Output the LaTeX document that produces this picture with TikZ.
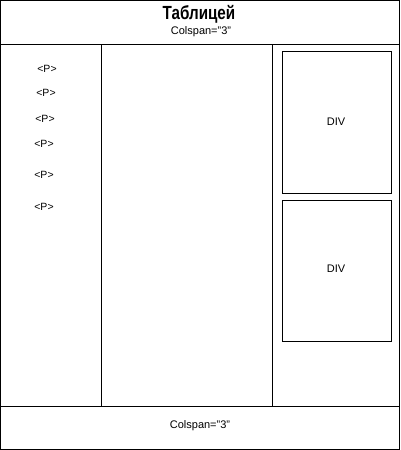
\documentclass[tikz,border=0pt]{standalone}
\usepackage{fontspec}
\usepackage{graphicx}
\setmainfont{Liberation Sans}
\begin{document}
\begin{tikzpicture}[x=1pt,y=-1pt,line width=1pt,
  box/.style={draw,line width=1pt},
  ptext/.style={font=\fontsize{10.5}{12}\selectfont,inner sep=0pt},
  divtext/.style={font=\fontsize{11}{13}\selectfont,inner sep=0pt},
  cstext/.style={font=\fontsize{11}{13}\selectfont,inner sep=0pt},
  titletext/.style={font=\fontsize{19}{22}\selectfont\bfseries,inner sep=0pt}]
\useasboundingbox (0,0) rectangle (400,450);
\draw (0.5,0.5) rectangle (399.5,449.5);
\coordinate (tl) at (0,44.5);
\coordinate (tr) at (400,44.5);
\coordinate (bl) at (0,406.5);
\coordinate (br) at (400,406.5);
\draw (tl) -- (tr);
\draw (bl) -- (br);
\coordinate (v1t) at (101.5,44.5);
\coordinate (v1b) at (101.5,406.5);
\coordinate (v2t) at (272.5,44.5);
\coordinate (v2b) at (272.5,406.5);
\draw (v1t) -- (v1b);
\draw (v2t) -- (v2b);
\node[titletext] (title) at (199,14) {\scalebox{0.8}[1]{Таблицей}};
\node[cstext] (cs1) at (201,32) {Colspan="3"};
\node[box,minimum width=109pt,minimum height=142pt,inner sep=0pt] (div1) at (336.5,122) {};
\node[box,minimum width=109pt,minimum height=141pt,inner sep=0pt] (div2) at (336.5,270.5) {};
\node[divtext] (d1) at (336,122) {DIV};
\node[divtext] (d2) at (336,269) {DIV};
\node[ptext] (p1) at (47,69) {<P>};
\node[ptext] (p2) at (46,93) {<P>};
\node[ptext] (p3) at (45,119) {<P>};
\node[ptext] (p4) at (44,144) {<P>};
\node[ptext] (p5) at (44,175) {<P>};
\node[ptext] (p6) at (44,207) {<P>};
\node[cstext] (cs2) at (200,426) {Colspan="3"};
\end{tikzpicture}
\end{document}
